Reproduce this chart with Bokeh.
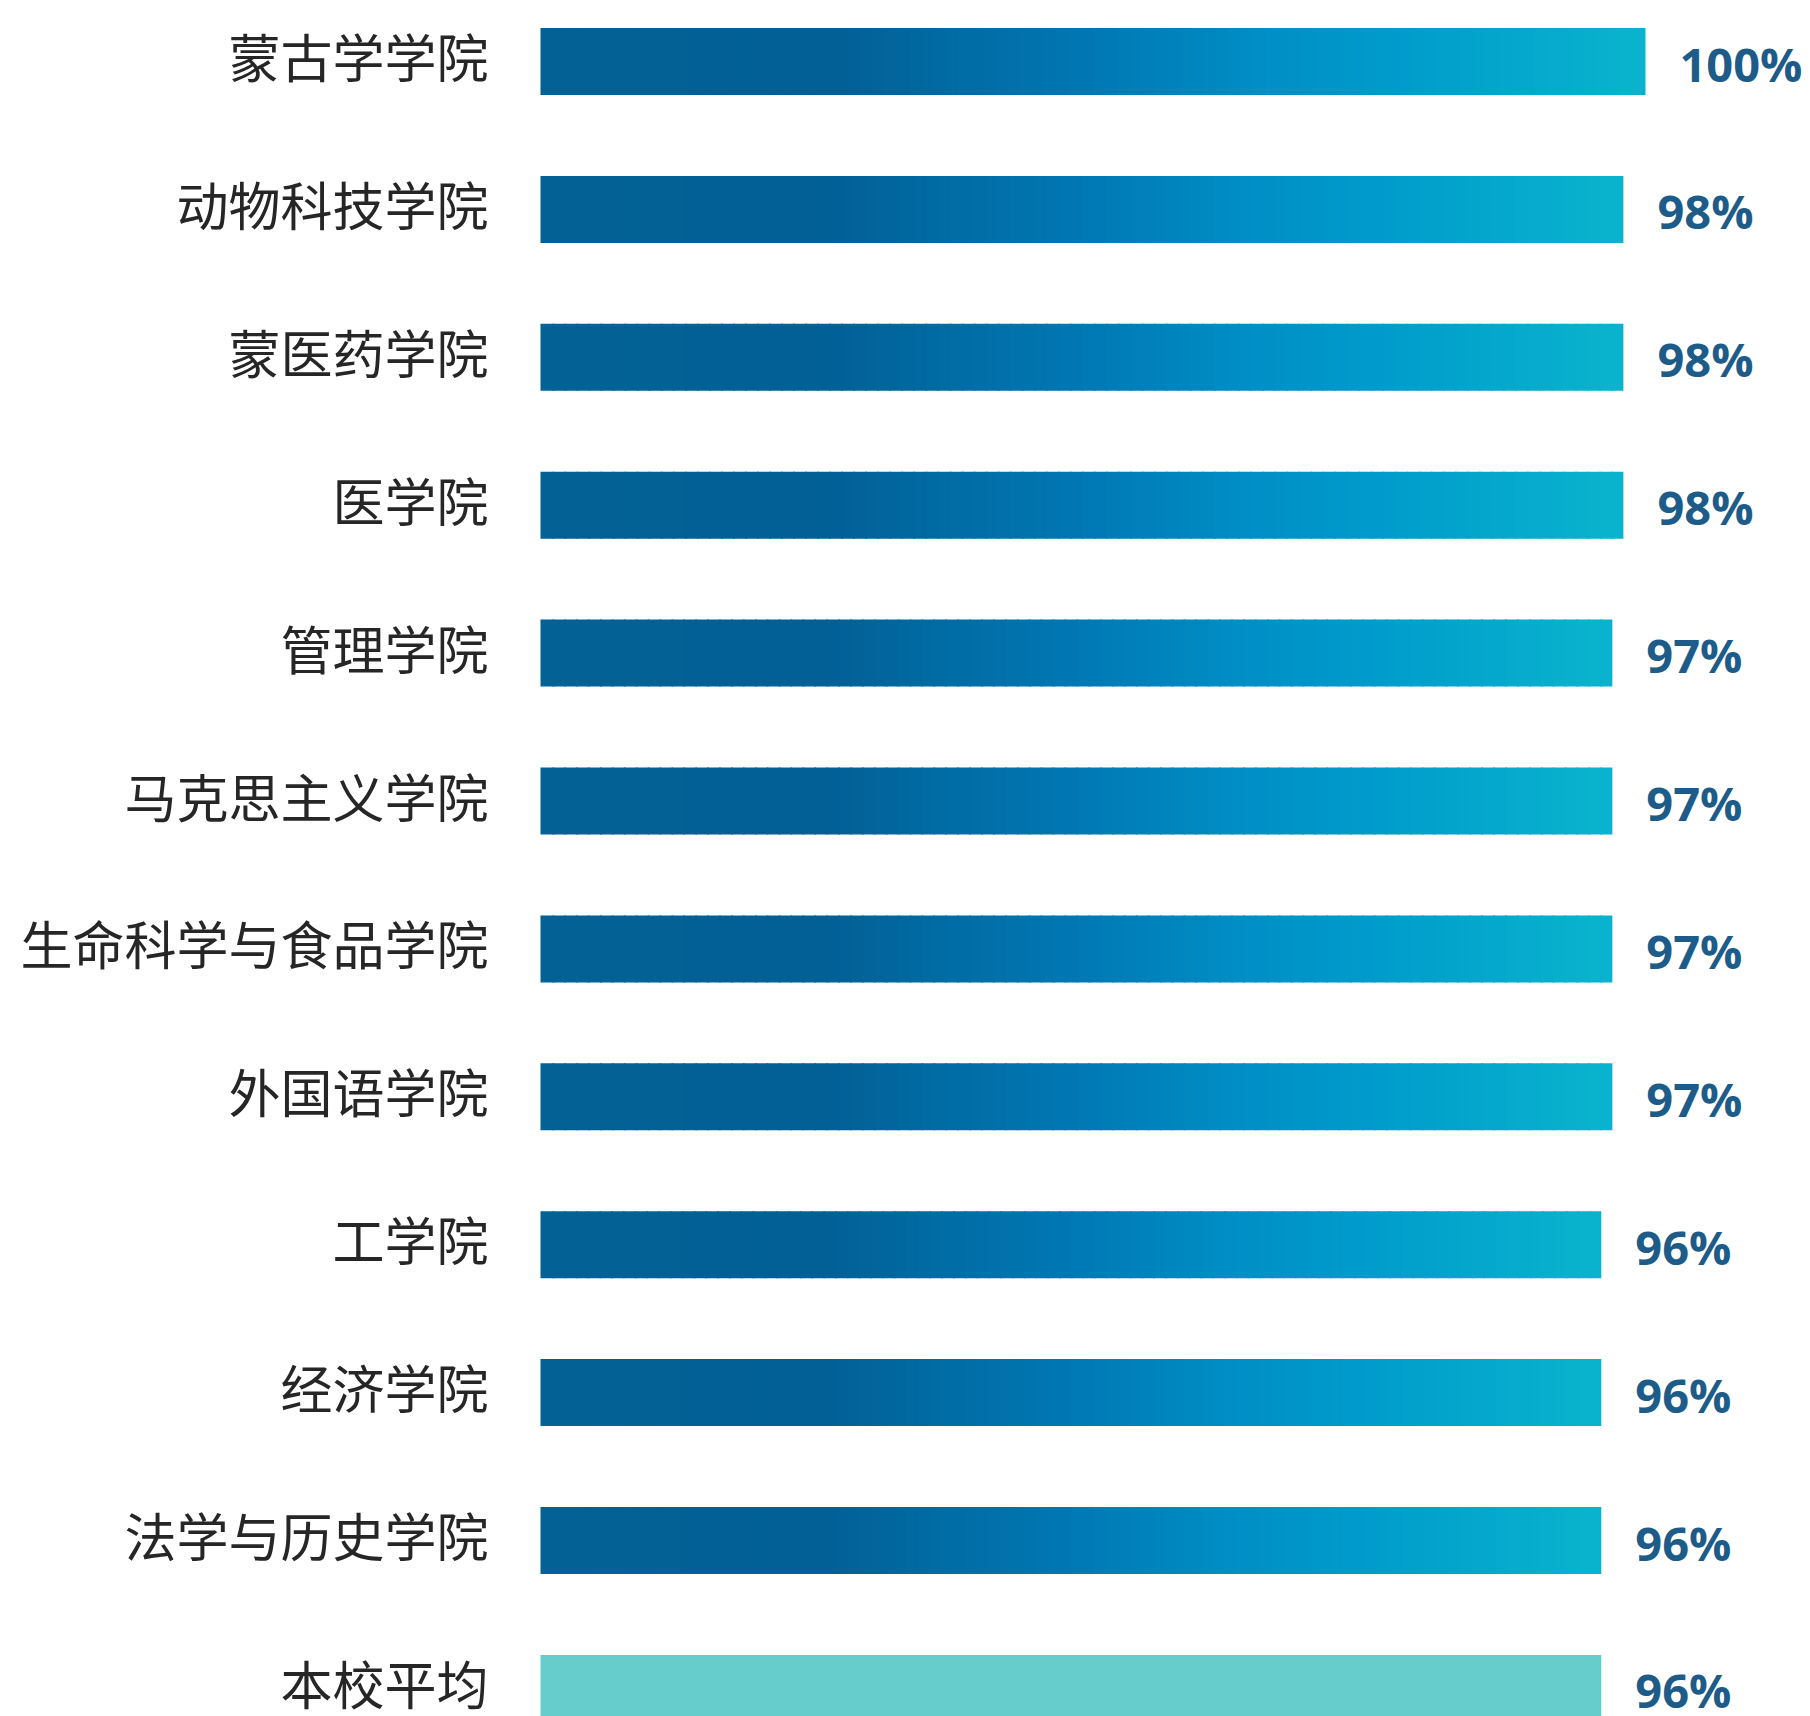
from bokeh.plotting import figure
from bokeh.models import ColumnDataSource, Range1d
from bokeh.core.properties import value
from bokeh.embed import file_html
from bokeh.resources import INLINE

# ---- data ----
categories = ["蒙古学学院", "动物科技学院", "蒙医药学院", "医学院", "管理学院",
              "马克思主义学院", "生命科学与食品学院", "外国语学院", "工学院",
              "经济学院", "法学与历史学院", "本校平均"]
values = [100, 98, 98, 98, 97, 97, 97, 97, 96, 96, 96, 96]
value_labels = ["100%", "98%", "98%", "98%", "97%", "97%", "97%", "97%",
                "96%", "96%", "96%", "96%"]
is_average = [False] * 11 + [True]

# ---- style ----
W, H = 1810, 1716
PX_PER_UNIT_X = 11.05       # px per percent
ZERO_PX = 540               # px of value 0
PITCH = 147.9               # px between bar centres
FIRST_CENTER = 61           # px of first bar centre
BAR_H = 67 / PITCH
N_SLICES = 90
stops = [(0.0, (3, 97, 150)), (0.27, (2, 96, 150)), (0.5, (0, 120, 180)),
         (0.65, (0, 142, 197)), (0.78, (0, 156, 204)), (1.0, (10, 180, 205))]
AVG_COLOR = "#66cccc"


def grad(t):
    for (t0, c0), (t1, c1) in zip(stops[:-1], stops[1:]):
        if t <= t1:
            f = (t - t0) / (t1 - t0) if t1 > t0 else 0
            c = [round(a + (b - a) * f) for a, b in zip(c0, c1)]
            return "#%02x%02x%02x" % tuple(c)
    return "#%02x%02x%02x" % stops[-1][1]


x_start = -ZERO_PX / PX_PER_UNIT_X
x_end = (W - ZERO_PX) / PX_PER_UNIT_X
y_top = -FIRST_CENTER / PITCH
y_bottom = y_top + H / PITCH

p = figure(width=W, height=H, output_backend="svg", toolbar_location=None,
           x_range=Range1d(x_start, x_end), y_range=Range1d(y_bottom, y_top),
           min_border=0, outline_line_color=None)
p.axis.visible = False
p.grid.visible = False
p.background_fill_color = "white"
p.border_fill_color = "white"

# gradient bars built from slices of each value
left, right, top, bottom, colors = [], [], [], [], []
for i, (v, avg) in enumerate(zip(values, is_average)):
    if avg:
        left.append(0); right.append(v)
        top.append(i - BAR_H / 2); bottom.append(i + BAR_H / 2)
        colors.append(AVG_COLOR)
        continue
    for k in range(N_SLICES):
        left.append(v * k / N_SLICES)
        right.append(min(v, v * (k + 1) / N_SLICES + 0.15))
        top.append(i - BAR_H / 2); bottom.append(i + BAR_H / 2)
        colors.append(grad((k + 0.5) / N_SLICES))

bars = ColumnDataSource(dict(left=left, right=right, top=top, bottom=bottom, color=colors))
p.quad(left="left", right="right", top="top", bottom="bottom", source=bars,
       fill_color="color", line_color=None)

ys = list(range(len(categories)))
lab = ColumnDataSource(dict(x=[0] * len(categories), y=ys, text=categories))
p.text(x="x", y="y", text="text", source=lab, text_align="right",
       text_baseline="middle", x_offset=-52, y_offset=-6,
       text_font=value("Noto Sans CJK SC"), text_font_size="52px",
       text_color="#262626")

vl = ColumnDataSource(dict(x=values, y=ys, text=value_labels))
p.text(x="x", y="y", text="text", source=vl, text_align="left",
       text_baseline="middle", x_offset=34, y_offset=2,
       text_font=value("Open Sans"), text_font_style="bold",
       text_font_size="47px", text_color="#1d5c89")

open("out.html", "w").write(file_html(p, INLINE))
